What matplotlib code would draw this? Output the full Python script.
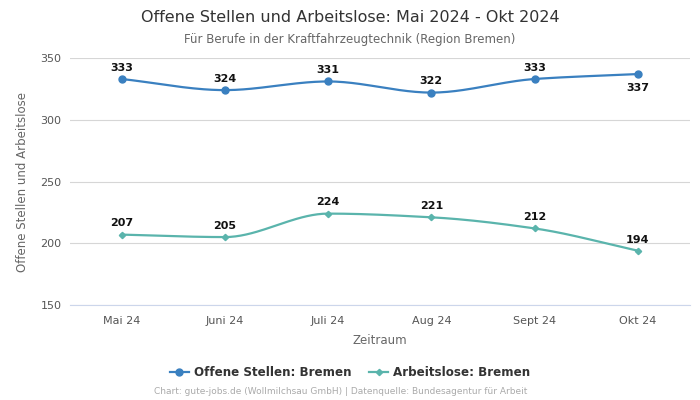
import numpy as np
import matplotlib
matplotlib.use("Agg")
import matplotlib.pyplot as plt
from matplotlib.lines import Line2D

months = ["Mai 24", "Juni 24", "Juli 24", "Aug 24", "Sept 24", "Okt 24"]
offene = [333, 324, 331, 322, 333, 337]
arbeitslose = [207, 205, 224, 221, 212, 194]
name_offene = "Offene Stellen: Bremen"
name_arbeitslose = "Arbeitslose: Bremen"
yticks = [150, 200, 250, 300, 350]

c_blue = "#3a80c0"
c_teal = "#5ab4ac"


def monotone(x, y, n=40):
    x = np.asarray(x, float)
    y = np.asarray(y, float)
    h = np.diff(x)
    d = np.diff(y) / h
    m = np.zeros_like(y)
    for i in range(1, len(y) - 1):
        if d[i - 1] * d[i] <= 0:
            m[i] = 0
        else:
            m[i] = (3 * (h[i - 1] + h[i])) / ((2 * h[i] + h[i - 1]) / d[i - 1] + (h[i] + 2 * h[i - 1]) / d[i])
    m[0] = d[0]
    m[-1] = d[-1]
    xs, ys = [], []
    for i in range(len(x) - 1):
        t = np.linspace(0, 1, n)
        h00 = 2 * t**3 - 3 * t**2 + 1
        h10 = t**3 - 2 * t**2 + t
        h01 = -2 * t**3 + 3 * t**2
        h11 = t**3 - t**2
        xs.append(x[i] + t * h[i])
        ys.append(h00 * y[i] + h10 * h[i] * m[i] + h01 * y[i + 1] + h11 * h[i] * m[i + 1])
    return np.concatenate(xs), np.concatenate(ys)


fig = plt.figure(figsize=(7, 4), dpi=100)
ax = fig.add_axes([0.1, 0.2375, 0.885, 0.6175])
xi = np.arange(len(months))

for vals, col, mk, ms in [(offene, c_blue, "o", 5), (arbeitslose, c_teal, "D", 3.2)]:
    sx, sy = monotone(xi, vals)
    ax.plot(sx, sy, color=col, lw=1.6, zorder=3)
    ax.plot(xi, vals, ls="none", marker=mk, ms=ms, color=col, zorder=4)

for i, v in enumerate(offene):
    if i == len(offene) - 1:
        ax.annotate(str(v), (i, v), xytext=(0, -10), textcoords="offset points",
                    ha="center", va="center", fontsize=8, fontweight="bold", color="#111")
    else:
        ax.annotate(str(v), (i, v), xytext=(0, 8), textcoords="offset points",
                    ha="center", va="center", fontsize=8, fontweight="bold", color="#111")
for i, v in enumerate(arbeitslose):
    ax.annotate(str(v), (i, v), xytext=(0, 8), textcoords="offset points",
                ha="center", va="center", fontsize=8, fontweight="bold", color="#111")

ax.set_xlim(-0.5, len(months) - 0.5)
ax.set_ylim(150, 350)
ax.set_yticks(yticks)
ax.set_xticks(xi)
ax.set_xticklabels(months)
ax.grid(axis="y", color="#d6d6d6", lw=0.8)
ax.set_axisbelow(True)
for s in ["top", "right", "left"]:
    ax.spines[s].set_visible(False)
ax.spines["bottom"].set_color("#ccd6eb")
ax.tick_params(axis="both", length=0, labelsize=8, colors="#555555", pad=6)
ax.tick_params(axis="x", pad=8)
ax.set_ylabel("Offene Stellen und Arbeitslose", fontsize=8.5, color="#666666", labelpad=8)
ax.set_xlabel("Zeitraum", fontsize=8.5, color="#666666", labelpad=6)

fig.text(0.5, 0.957, "Offene Stellen und Arbeitslose: Mai 2024 - Okt 2024",
         ha="center", va="center", fontsize=11.5, color="#333333")
fig.text(0.5, 0.902, "Für Berufe in der Kraftfahrzeugtechnik (Region Bremen)",
         ha="center", va="center", fontsize=8.5, color="#666666")

handles = [Line2D([], [], color=c_blue, marker="o", ms=5, lw=1.6),
           Line2D([], [], color=c_teal, marker="D", ms=3.2, lw=1.6)]
leg = fig.legend(handles, [name_offene, name_arbeitslose], loc="center", bbox_to_anchor=(0.5, 0.068),
                 ncol=2, frameon=False, prop={"size": 8.6, "weight": "bold"}, handlelength=1.6,
                 columnspacing=1.5, handletextpad=0.4)
for t in leg.get_texts():
    t.set_color("#333333")

fig.text(0.486, 0.02, "Chart: gute-jobs.de (Wollmilchsau GmbH) | Datenquelle: Bundesagentur für Arbeit",
         ha="center", va="center", fontsize=6.45, color="#aaaaaa")

fig.savefig("out.png", dpi=100)
